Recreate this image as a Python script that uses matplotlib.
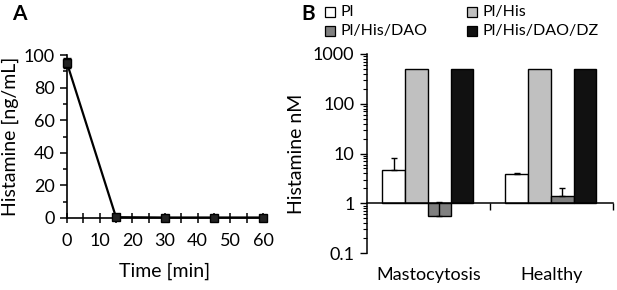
import matplotlib
matplotlib.use("Agg")
import matplotlib.pyplot as plt
import matplotlib.transforms as mtransforms
from matplotlib.patches import Rectangle
import numpy as np

plt.rcParams['font.family'] = ['Lato', 'DejaVu Sans']

# Panel A data
time_min = [0, 15, 30, 45, 60]
hist_ng = [95, 0.5, 0.3, 0.3, 0.3]
hist_err = [3, 0.3, 0.2, 0.2, 0.2]

# Panel B data
groups = ['Mastocytosis', 'Healthy']
series = ['Pl', 'Pl/His', 'Pl/His/DAO', 'Pl/His/DAO/DZ']
colors = ['#ffffff', '#c0c0c0', '#808080', '#111111']
values = {
    'Pl': [4.6, 3.8],
    'Pl/His': [500, 500],
    'Pl/His/DAO': [0.55, 1.4],
    'Pl/His/DAO/DZ': [500, 500],
}
errors = {
    'Pl': [3.4, 0.35],
    'Pl/His': [0, 0],
    'Pl/His/DAO': [0.5, 0.6],
    'Pl/His/DAO/DZ': [0, 0],
}

FT = 13      # tick labels
FL = 14      # axis labels
FC = 13      # category labels
FG = 11.5    # legend

W, H = 617, 290
fig = plt.figure(figsize=(W/100, H/100), dpi=100)

# ---- Panel A ----
axA = fig.add_axes([67/W, 1-218/H, (263-67)/W, (218-55)/H])
axA.errorbar(time_min, hist_ng, yerr=hist_err, color='black', lw=1.6,
             marker='s', ms=5.5, mfc='#222222', mec='black', capsize=3,
             elinewidth=1.2, clip_on=False, zorder=3)
axA.set_xlim(0, 60)
axA.set_ylim(0, 100)
axA.set_xticks(np.arange(0, 61, 10))
axA.set_xticks(np.arange(0, 61, 5), minor=True)
axA.set_yticks(np.arange(0, 101, 20))
axA.set_yticks(np.arange(0, 101, 10), minor=True)
for s in ['top', 'right']:
    axA.spines[s].set_visible(False)
for s in ['left', 'bottom']:
    axA.spines[s].set_linewidth(1.2)
axA.tick_params(axis='x', which='both', direction='inout', length=7, width=1.1, labelsize=FT, pad=7)
axA.tick_params(axis='y', which='major', direction='out', length=5, width=1.1, labelsize=FT, pad=4)
axA.tick_params(axis='y', which='minor', direction='out', length=3, width=1.1)
axA.set_xlabel('Time [min]', fontsize=FL, labelpad=10)
axA.set_ylabel('Histamine [ng/mL]', fontsize=FL, labelpad=3)
fig.text(12/W, 1-14/H, 'A', fontsize=15, fontweight='bold', va='center', ha='left')

# ---- Panel B ----
axB = fig.add_axes([367/W, 1-253/H, (613-367)/W, (253-54)/H])
axB.set_yscale('log')
axB.set_ylim(0.1, 1000)
axB.set_xlim(0.5, 2.5)
x = np.arange(1, len(groups) + 1)
w = 0.185
offsets = np.array([-1.5, -0.5, 0.5, 1.5]) * w
for i, name in enumerate(series):
    v = np.array(values[name], dtype=float)
    e = np.array(errors[name], dtype=float)
    xs = x + offsets[i] - 0.005
    axB.bar(xs, v - 1, bottom=1, width=w, color=colors[i],
            edgecolor='black', linewidth=1.0, label=name, zorder=2)
    for xi, vi, ei in zip(xs, v, e):
        if ei > 0:
            axB.errorbar([xi], [vi], yerr=[[0], [ei]], color='black', lw=1.0,
                         capsize=2.5, capthick=1.0, zorder=3)
axB.spines['bottom'].set_position(('data', 1))
for s in ['top', 'right']:
    axB.spines[s].set_visible(False)
axB.spines['left'].set_linewidth(1.1)
axB.spines['bottom'].set_linewidth(1.1)
axB.set_xticks([1.5, 2.5])
axB.tick_params(axis='x', which='major', direction='out', length=5, width=1.0, labelbottom=False)
axB.tick_params(axis='y', which='major', direction='out', length=5, width=1.0, labelsize=FT, pad=4)
axB.tick_params(axis='y', which='minor', direction='out', length=3, width=0.8)
axB.set_yticks([0.1, 1, 10, 100, 1000])
axB.set_yticklabels(['0.1', '1', '10', '100', '1000'])
trans = mtransforms.blended_transform_factory(axB.transData, axB.transAxes)
for xi, g in zip(x, groups):
    axB.text(xi, -0.11, g, transform=trans, ha='center', va='center', fontsize=FC)
axB.set_ylabel('Histamine nM', fontsize=FL, labelpad=6)
fig.text(301/W, 1-14/H, 'B', fontsize=15, fontweight='bold', va='center', ha='left')

# Legend (two rows, row-wise order)
leg_pos = {'Pl': (325, 12), 'Pl/His': (467, 12),
           'Pl/His/DAO': (325, 31), 'Pl/His/DAO/DZ': (467, 31)}
for name, col in zip(series, colors):
    px, py = leg_pos[name]
    fig.patches.append(Rectangle((px/W, 1-(py+5)/H), 10/W, 10/H, transform=fig.transFigure,
                                 facecolor=col, edgecolor='black', linewidth=0.9))
    fig.text((px+15)/W, 1-py/H, name, fontsize=FG, va='center', ha='left')

fig.savefig('out.png', dpi=100)
